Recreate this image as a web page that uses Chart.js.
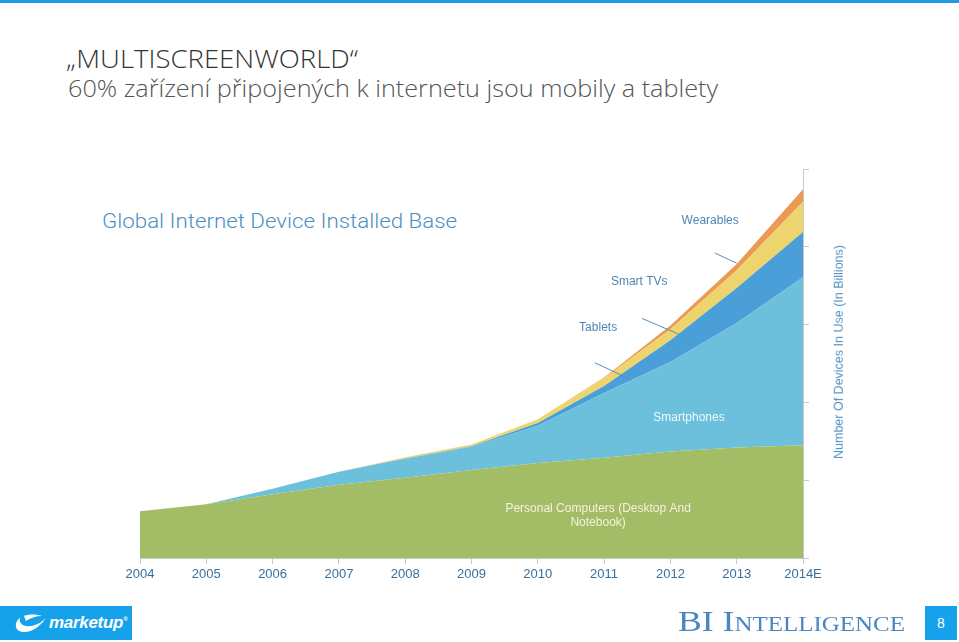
<!DOCTYPE html>
<html><head><meta charset="utf-8">
<script src="https://cdn.jsdelivr.net/npm/chart.js@4.4.1/dist/chart.umd.min.js"></script>
<style>
html,body{margin:0;padding:0;background:#fff;}
body{width:959px;height:642px;position:relative;overflow:hidden;font-family:"Liberation Sans",Arial,sans-serif;}
#topbar{position:absolute;left:0;top:0;width:959px;height:3px;background:#1e9be3;}
.fit{position:absolute;white-space:nowrap;transform-origin:0 0;line-height:1;}
#t1{left:66px;top:46px;font-family:"Open Sans";font-weight:300;font-size:25px;color:#333;}
#t2{left:68px;top:76px;font-family:"Open Sans";font-weight:300;font-size:24px;color:#555;}
#t3{left:102px;top:211px;font-family:Roboto;font-weight:300;font-size:20px;color:#4d90c2;}
#ytitle{position:absolute;left:839px;top:352px;white-space:nowrap;font-size:12.5px;color:#4d90c2;line-height:1;transform:translate(-50%,-50%) rotate(-90deg);}
#logo{position:absolute;left:0;top:606px;width:132px;height:34px;background:#16a2ea;}
#logo span{position:absolute;left:49px;top:7px;color:#fff;font-weight:bold;font-style:italic;font-size:17px;letter-spacing:-0.3px;}
#logo sup{font-size:6px;}
#bi{position:absolute;left:678px;top:606px;font-family:"Liberation Serif";font-variant:small-caps;font-size:30px;color:#4a87c2;line-height:1;white-space:nowrap;transform-origin:0 0;}
#pg{position:absolute;left:925px;top:606px;width:32px;height:34px;background:#16a2ea;color:#fff;font-size:14px;text-align:center;line-height:34px;}
#c{position:absolute;left:0;top:0;}
</style></head>
<body>
<div id="topbar"></div>
<div class="fit" id="t1" data-w="292">„MULTISCREENWORLD“</div>
<div class="fit" id="t2" data-w="650">60% zařízení připojených k internetu jsou mobily a tablety</div>
<div class="fit" id="t3" data-w="355">Global Internet Device Installed Base</div>
<canvas id="c" width="959" height="642"></canvas>
<div id="ytitle">Number Of Devices In Use (In Billions)</div>
<div id="logo"><svg width="46" height="34" style="position:absolute;left:6px;top:0"><path d="M14 12 C8 16 8 26 18 26 C28 26 36 18 40 12 C34 18 26 21 20 20 C15 19 13 16 14 12 Z" fill="#fff"/><path d="M18 10 C22 8 30 8 36 10 C30 10 24 12 20 15 Z" fill="#fff"/></svg><span>marketup<sup>®</sup></span></div>
<div id="bi">BI Intelligence</div>
<div id="pg">8</div>
<script>
const years = ['2004','2005','2006','2007','2008','2009','2010','2011','2012','2013','2014E'];
const personalComputers = [0.60, 0.69, 0.82, 0.94, 1.03, 1.13, 1.22, 1.29, 1.37, 1.42, 1.45];
const smartphones       = [0.00, 0.00, 0.07, 0.17, 0.25, 0.30, 0.48, 0.83, 1.15, 1.60, 2.16];
const tablets           = [0.00, 0.00, 0.00, 0.00, 0.00, 0.005, 0.035, 0.09, 0.28, 0.45, 0.58];
const smartTVs          = [0.00, 0.00, 0.00, 0.00, 0.015, 0.025, 0.05, 0.10, 0.14, 0.23, 0.39];
const wearables         = [0.00, 0.00, 0.00, 0.00, 0.00, 0.00, 0.00, 0.01, 0.05, 0.08, 0.16];
const yTicks = [0, 1, 2, 3, 4, 5];

function fitText(){
  document.querySelectorAll('.fit').forEach(el=>{
    el.style.transform='none';
    const a=el.getBoundingClientRect().width;
    el.style.transform='scaleX('+(+el.dataset.w/a)+')';
  });
  const bi=document.getElementById('bi');
  bi.style.transform='none';
  bi.style.transform='scaleX('+(227/bi.getBoundingClientRect().width)+')';
}
fitText();
if(document.fonts&&document.fonts.ready) document.fonts.ready.then(fitText);

// annotation placement (x as category index, y in billions)
const annot = {
  id:'annot',
  afterDatasetsDraw(chart){
    const {ctx, scales:{x,y}} = chart;
    const P=(i,v)=>[x.getPixelForValue(i), y.getPixelForValue(v)];
    ctx.save();
    ctx.strokeStyle='#5f8db3'; ctx.lineWidth=1;
    [[6.86,2.51,7.41,2.29],[7.57,3.08,8.12,2.88],[8.67,3.92,9.0,3.79]].forEach(l=>{
      const a=P(l[0],l[1]), b=P(l[2],l[3]);
      ctx.beginPath(); ctx.moveTo(a[0],a[1]); ctx.lineTo(b[0],b[1]); ctx.stroke();
    });
    ctx.textAlign='center'; ctx.textBaseline='middle';
    ctx.font='12px "Liberation Sans", Arial, sans-serif';
    const txt=(s,i,v,c)=>{const p=P(i,v); ctx.fillStyle=c; ctx.fillText(s,p[0],p[1]);};
    txt('Tablets',6.91,2.96,'#4f86b3');
    txt('Smart TVs',7.53,3.55,'#4f86b3');
    txt('Wearables',8.60,4.33,'#4f86b3');
    txt('Smartphones',8.28,1.80,'#eef8fb');
    txt('Personal Computers (Desktop And',6.91,0.63,'#f4f1dc');
    txt('Notebook)',6.91,0.46,'#f4f1dc');
    ctx.restore();
  }
};

const none='rgba(0,0,0,0)';
new Chart(document.getElementById('c'), {
  type:'line',
  data:{labels:years, datasets:[
    {label:'Personal Computers (Desktop And Notebook)', data:personalComputers, backgroundColor:'#a3bd67', borderColor:none, fill:'origin'},
    {label:'Smartphones', data:smartphones, backgroundColor:'#6cc0dc', borderColor:none, fill:'-1'},
    {label:'Tablets', data:tablets, backgroundColor:'#4a9fd8', borderColor:none, fill:'-1'},
    {label:'Smart TVs', data:smartTVs, backgroundColor:'#eed46d', borderColor:none, fill:'-1'},
    {label:'Wearables', data:wearables, backgroundColor:'#ea9a55', borderColor:none, fill:'-1'}
  ]},
  options:{
    responsive:false, animation:false, devicePixelRatio:1,
    layout:{padding:{left:140, top:169, right:146, bottom:0}},
    elements:{line:{tension:0, borderWidth:0}, point:{radius:0, hoverRadius:0}},
    plugins:{legend:{display:false}, tooltip:{enabled:false}},
    scales:{
      x:{offset:false,
         grid:{display:true, drawOnChartArea:false, drawTicks:true, tickLength:6, color:'#c9c9c9'},
         border:{display:true, color:'#c9c9c9'},
         ticks:{color:'#3b6f9a', font:{size:13, family:'"Liberation Sans", Arial, sans-serif'}, padding:3, maxRotation:0, autoSkip:false},
         afterFit(s){ s.height=84; }},
      y:{position:'right', stacked:true, min:0, max:5,
         afterBuildTicks(s){ s.ticks = yTicks.map(v=>({value:v})); },
         ticks:{display:false},
         grid:{display:true, drawOnChartArea:false, drawTicks:true, tickLength:6, color:'#c9c9c9'},
         border:{display:true, color:'#c9c9c9'},
         afterFit(s){ s.width=10; }}
    }
  },
  plugins:[annot]
});
</script>
</body></html>
